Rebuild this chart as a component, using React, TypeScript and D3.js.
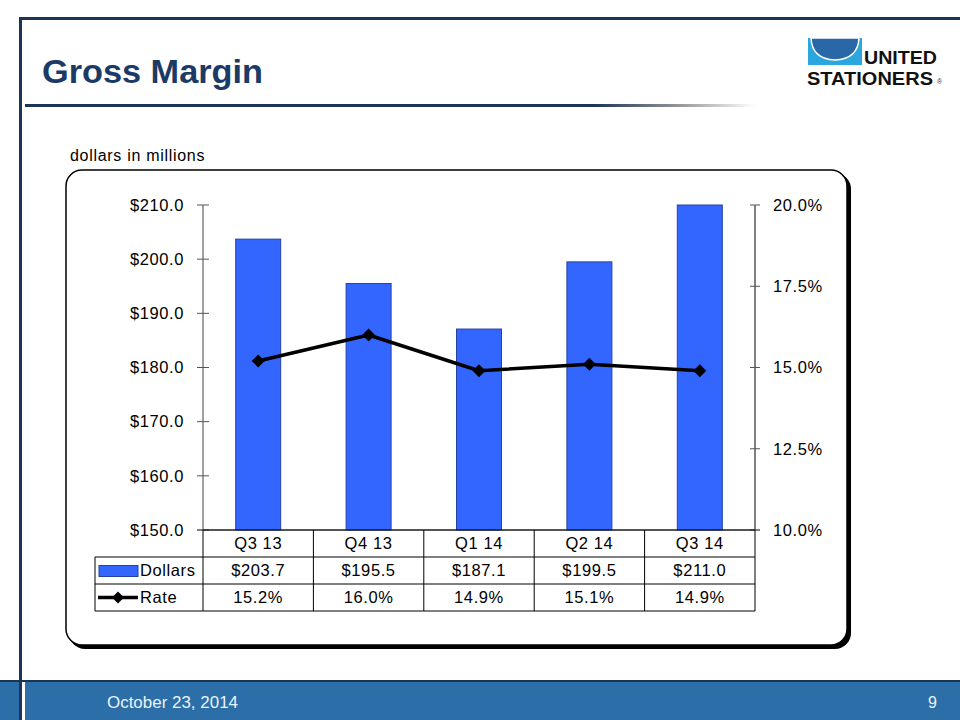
import React from "react";
import * as d3 from "d3";

const categories = ["Q3 13", "Q4 13", "Q1 14", "Q2 14", "Q3 14"];
const dollars = [203.7, 195.5, 187.1, 199.5, 211.0];
const rates = [15.2, 16.0, 14.9, 15.1, 14.9];
const leftTicks = [150, 160, 170, 180, 190, 200, 210];
const rightTicks = [10, 12.5, 15, 17.5, 20];

const FONT = "'Liberation Sans', Arial, sans-serif";

export default function App() {
  const x0 = 203, x1 = 755, yTop = 205, yBot = 530;
  const x = d3.scaleBand<string>().domain(categories).range([x0, x1]).paddingInner(0).paddingOuter(0);
  const yL = d3.scaleLinear().domain([150, 210]).range([yBot, yTop]).clamp(true);
  const yR = d3.scaleLinear().domain([10, 20]).range([yBot, yTop]);
  const bw = 45;
  const line = d3.line<number>().x((_, i) => x(categories[i])! + x.bandwidth() / 2).y(d => yR(d));
  const rowH = 27;
  const tblLeft = 95;
  const fs = 16.5;
  const ls = 0.6;
  const diamond = (cx: number, cy: number, r: number) => `M${cx},${cy - r}L${cx + r},${cy}L${cx},${cy + r}L${cx - r},${cy}Z`;

  return (
    <svg width={960} height={720} style={{ position: "absolute", left: 0, top: 0 }} fontFamily={FONT}>
      <defs>
        <linearGradient id="hl" x1="0" x2="1" y1="0" y2="0">
          <stop offset="0" stopColor="#1B3556" />
          <stop offset="0.78" stopColor="#1B3556" />
          <stop offset="0.9" stopColor="#9a9a9a" />
          <stop offset="1" stopColor="#ffffff" />
        </linearGradient>
      </defs>
      <rect x={0} y={0} width={960} height={720} fill="#fff" />
      {/* header frame */}
      <rect x={19} y={17} width={941} height={3} fill="#1B3556" />
      <rect x={19} y={17} width={3} height={703} fill="#1B3556" />
      <text x={42} y={83} fontSize={33} fontWeight="bold" fill="#1C3A66" textLength={221} lengthAdjust="spacingAndGlyphs">Gross Margin</text>
      <rect x={25} y={104} width={730} height={3} fill="url(#hl)" />
      {/* logo */}
      <g>
        <rect x={808} y={38} width={54} height={27} fill="#2BA6DE" />
        <path d="M811,38 L859,38 Q858,59 835,60 Q812,59 811,38 Z" fill="#2A67A6" stroke="#fff" strokeWidth={1.5} />
        <text x={864} y={64} fontSize={18} fontWeight="bold" fill="#111" textLength={73} lengthAdjust="spacingAndGlyphs">UNITED</text>
        <text x={807} y={85} fontSize={18} fontWeight="bold" fill="#111" textLength={126} lengthAdjust="spacingAndGlyphs">STATIONERS</text>
        <text x={937} y={84} fontSize={7} fill="#333">®</text>
      </g>
      {/* chart box */}
      <text x={70} y={161} fontSize={16} letterSpacing={0.7} fill="#000">dollars in millions</text>
      <rect x={69} y={173} width={782} height={476} rx={16} fill="#000" />
      <rect x={66} y={170} width={781} height={475} rx={16} fill="#fff" stroke="#000" strokeWidth={1.5} />
      {/* bars */}
      {dollars.map((d, i) => (
        <rect key={i} x={x(categories[i])! + x.bandwidth() / 2 - bw / 2} y={yL(d)} width={bw} height={yBot - yL(d)}
          fill="#3366FF" stroke="#24429E" strokeWidth={1} />
      ))}
      {/* left axis */}
      <line x1={x0} x2={x0} y1={yTop} y2={yBot} stroke="#808080" strokeWidth={1.5} />
      {leftTicks.map(t => (
        <g key={t}>
          <line x1={x0 - 6} x2={x0 + 6} y1={yL(t)} y2={yL(t)} stroke="#555" strokeWidth={1} />
          <text x={x0 - 19} y={yL(t)} dy="0.35em" textAnchor="end" fontSize={fs} letterSpacing={ls} fill="#000">${t.toFixed(1)}</text>
        </g>
      ))}
      {/* right axis */}
      <line x1={x1} x2={x1} y1={yTop} y2={yBot} stroke="#000" strokeWidth={1} />
      {rightTicks.map(t => (
        <g key={t}>
          <line x1={x1 - 5} x2={x1 + 5} y1={yR(t)} y2={yR(t)} stroke="#555" strokeWidth={1} />
          <text x={x1 + 18} y={yR(t)} dy="0.35em" fontSize={fs} letterSpacing={ls} fill="#000">{t.toFixed(1)}%</text>
        </g>
      ))}
      {/* base line */}
      <line x1={x0 - 6} x2={x1 + 5} y1={yBot} y2={yBot} stroke="#555" strokeWidth={1} />
      {/* rate line */}
      <path d={line(rates)!} fill="none" stroke="#000" strokeWidth={3.5} strokeLinejoin="round" />
      {rates.map((r, i) => (
        <path key={i} d={diamond(x(categories[i])! + x.bandwidth() / 2, yR(r), 6.5)} fill="#000" />
      ))}
      {/* data table */}
      <g stroke="#000" strokeWidth={1}>
        <line x1={x0} x2={x1} y1={yBot} y2={yBot} />
        <line x1={tblLeft} x2={x1} y1={yBot + rowH} y2={yBot + rowH} />
        <line x1={tblLeft} x2={x1} y1={yBot + 2 * rowH} y2={yBot + 2 * rowH} />
        <line x1={tblLeft} x2={x1} y1={yBot + 3 * rowH} y2={yBot + 3 * rowH} />
        <line x1={tblLeft} x2={tblLeft} y1={yBot + rowH} y2={yBot + 3 * rowH} />
        {categories.map((c) => (
          <line key={c} x1={x(c)!} x2={x(c)!} y1={yBot} y2={yBot + 3 * rowH} />
        ))}
        <line x1={x1} x2={x1} y1={yBot} y2={yBot + 3 * rowH} />
      </g>
      {categories.map((c, i) => (
        <g key={c} fontSize={fs} letterSpacing={ls} fill="#000" textAnchor="middle">
          <text x={x(c)! + x.bandwidth() / 2} y={yBot + rowH / 2} dy="0.36em">{c}</text>
          <text x={x(c)! + x.bandwidth() / 2} y={yBot + rowH * 1.5} dy="0.36em">${dollars[i].toFixed(1)}</text>
          <text x={x(c)! + x.bandwidth() / 2} y={yBot + rowH * 2.5} dy="0.36em">{rates[i].toFixed(1)}%</text>
        </g>
      ))}
      <rect x={99} y={yBot + rowH * 1.5 - 5} width={39} height={11} fill="#3366FF" stroke="#24429E" />
      <text x={140} y={yBot + rowH * 1.5} dy="0.36em" fontSize={fs} letterSpacing={ls} fill="#000">Dollars</text>
      <line x1={98} x2={138} y1={yBot + rowH * 2.5} y2={yBot + rowH * 2.5} stroke="#000" strokeWidth={3.5} />
      <path d={diamond(118, yBot + rowH * 2.5, 6)} fill="#000" />
      <text x={140} y={yBot + rowH * 2.5} dy="0.36em" fontSize={fs} letterSpacing={ls} fill="#000">Rate</text>
      {/* footer */}
      <rect x={0} y={680} width={960} height={40} fill="#2B6EA8" />
      <rect x={0} y={680} width={960} height={2} fill="#1B3556" />
      <rect x={19} y={680} width={3} height={40} fill="#1B3556" />
      <rect x={22} y={682} width={3} height={38} fill="#fff" />
      <text x={107} y={708} fontSize={16} fill="#EAF4FF" textLength={131} lengthAdjust="spacingAndGlyphs">October  23, 2014</text>
      <text x={937} y={708} fontSize={16} fill="#EAF4FF" textAnchor="end">9</text>
    </svg>
  );
}
